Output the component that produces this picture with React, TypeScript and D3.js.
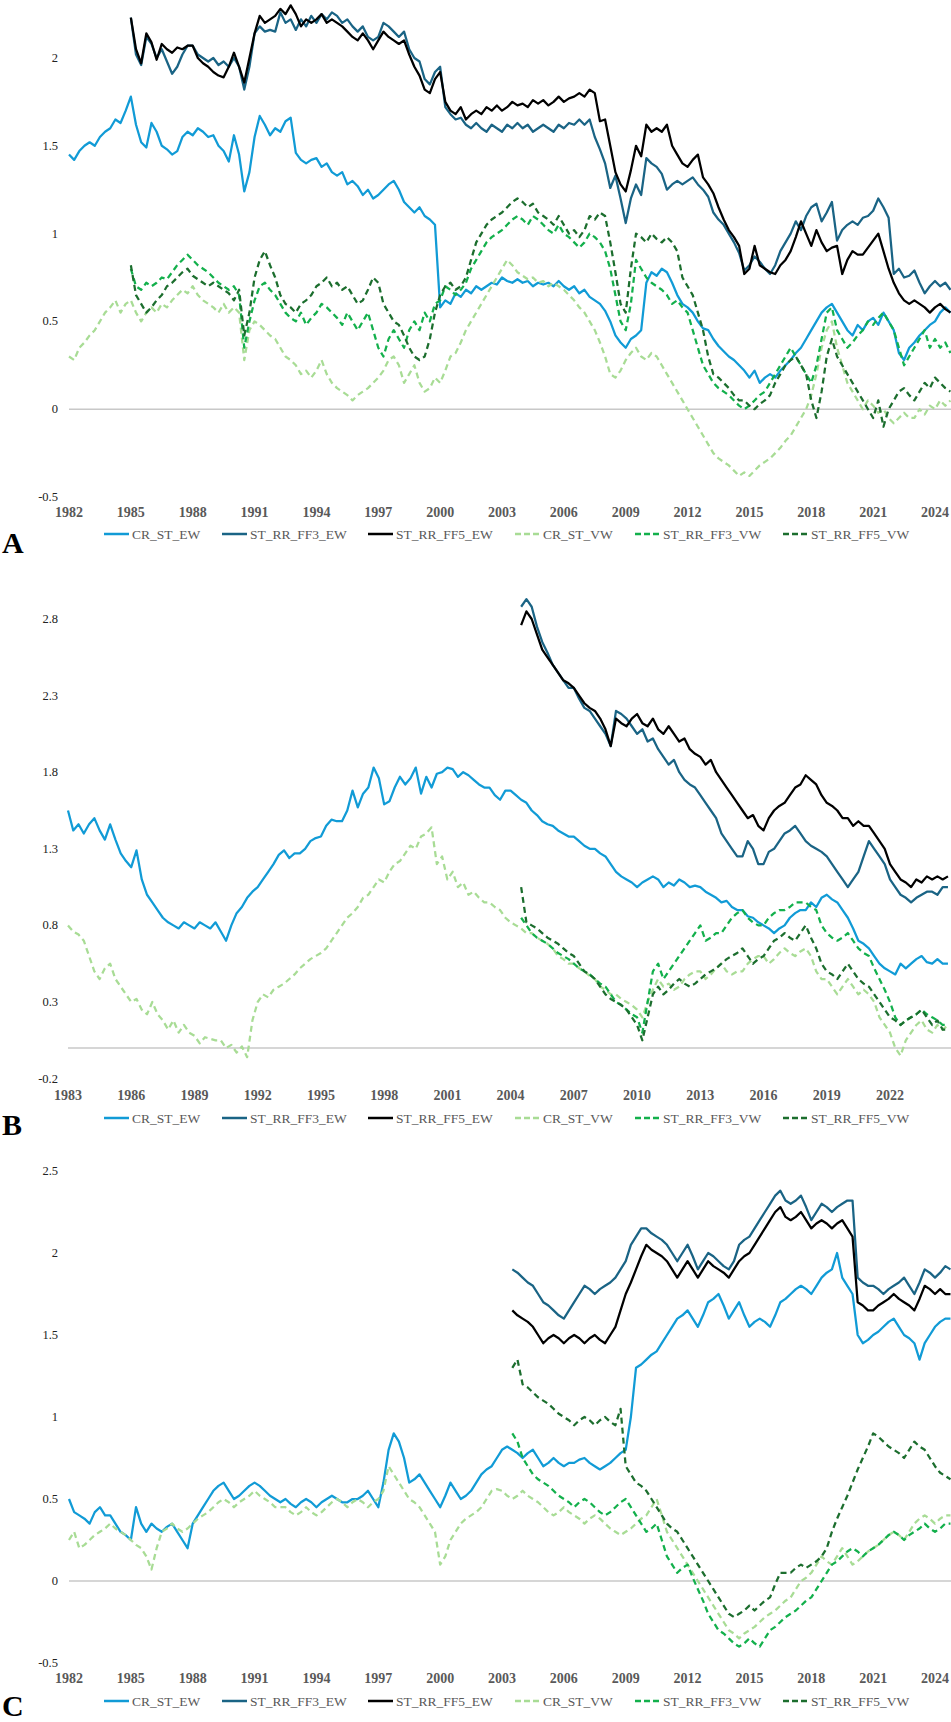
import React from "react";
import * as d3 from "d3";

const SERIES = ["CR_ST_EW", "ST_RR_FF3_EW", "ST_RR_FF5_EW", "CR_ST_VW", "ST_RR_FF3_VW", "ST_RR_FF5_VW"];
const COLORS = ["#119bd6", "#1a6485", "#000000", "#a8dc95", "#13b04c", "#1c6e2e"];
const DASHED = [false, false, false, true, true, true];

// Panel A (quarterly values)
const A_START = [1982, 1985, 1985, 1982, 1985, 1985];
const A_CR_ST_EW = [
  1.45, 1.42, 1.47, 1.50, 1.52, 1.50, 1.55, 1.58, 1.60, 1.65, 1.63, 1.70,
  1.78, 1.62, 1.52, 1.49, 1.63, 1.58, 1.50, 1.48, 1.45, 1.47, 1.55, 1.58,
  1.56, 1.60, 1.58, 1.55, 1.56, 1.50, 1.47, 1.41, 1.56, 1.45, 1.24, 1.35,
  1.55, 1.67, 1.62, 1.56, 1.60, 1.58, 1.64, 1.66, 1.46, 1.42, 1.40, 1.42,
  1.43, 1.38, 1.40, 1.35, 1.33, 1.35, 1.28, 1.30, 1.27, 1.22, 1.25, 1.20,
  1.22, 1.25, 1.28, 1.30, 1.25, 1.18, 1.15, 1.12, 1.15, 1.10, 1.08, 1.05,
  0.58, 0.62, 0.60, 0.66, 0.64, 0.68, 0.66, 0.70, 0.68, 0.70, 0.72, 0.71,
  0.75, 0.73, 0.72, 0.74, 0.72, 0.73, 0.70, 0.72, 0.71, 0.72, 0.70, 0.73,
  0.70, 0.68, 0.70, 0.66, 0.68, 0.64, 0.62, 0.60, 0.56, 0.50, 0.42, 0.38,
  0.35, 0.40, 0.42, 0.45, 0.72, 0.78, 0.76, 0.80, 0.78, 0.72, 0.65, 0.60,
  0.58, 0.55, 0.50, 0.46, 0.45, 0.40, 0.36, 0.33, 0.30, 0.28, 0.25, 0.22,
  0.18, 0.22, 0.15, 0.18, 0.20, 0.18, 0.22, 0.25, 0.28, 0.32, 0.35, 0.40,
  0.45, 0.50, 0.55, 0.58, 0.60, 0.55, 0.50, 0.45, 0.42, 0.48, 0.45, 0.50,
  0.52, 0.48, 0.55, 0.50, 0.45, 0.32, 0.28, 0.35, 0.38, 0.42, 0.45, 0.48,
  0.50, 0.55, 0.58, 0.55,
];
const A_ST_RR_FF3_EW = [
  2.23, 2.02, 1.96, 2.12, 2.08, 2.00, 2.05, 1.98, 1.91, 1.95, 2.02, 2.07,
  2.07, 2.02, 2.00, 1.98, 2.00, 1.96, 1.98, 1.95, 2.00, 1.95, 1.82, 1.95,
  2.14, 2.18, 2.15, 2.16, 2.15, 2.26, 2.20, 2.22, 2.16, 2.22, 2.18, 2.24,
  2.20, 2.25, 2.22, 2.26, 2.24, 2.20, 2.22, 2.18, 2.15, 2.18, 2.12, 2.10,
  2.12, 2.20, 2.18, 2.15, 2.12, 2.15, 2.05, 2.00, 1.98, 1.88, 1.85, 1.92,
  1.95, 1.72, 1.68, 1.65, 1.66, 1.62, 1.60, 1.63, 1.60, 1.58, 1.62, 1.60,
  1.58, 1.62, 1.60, 1.63, 1.60, 1.62, 1.58, 1.60, 1.62, 1.60, 1.58, 1.62,
  1.60, 1.63, 1.62, 1.65, 1.62, 1.65, 1.55, 1.48, 1.40, 1.26, 1.33, 1.20,
  1.06, 1.20, 1.28, 1.22, 1.43, 1.40, 1.38, 1.34, 1.25, 1.28, 1.30, 1.28,
  1.30, 1.32, 1.28, 1.25, 1.21, 1.12, 1.08, 1.05, 1.00, 0.95, 0.89, 0.79,
  0.82, 0.87, 0.84, 0.80, 0.77, 0.82, 0.90, 0.95, 1.00, 1.07, 1.02, 1.10,
  1.15, 1.17, 1.07, 1.12, 1.18, 0.96, 1.02, 1.05, 1.07, 1.05, 1.09, 1.10,
  1.13, 1.20, 1.15, 1.09, 0.77, 0.80, 0.75, 0.76, 0.79, 0.72, 0.66, 0.70,
  0.73, 0.70, 0.72, 0.68,
];
const A_ST_RR_FF5_EW = [
  2.23, 2.05, 1.97, 2.14, 2.09, 1.99, 2.08, 2.05, 2.03, 2.06, 2.05, 2.07,
  2.07, 2.00, 1.97, 1.95, 1.92, 1.90, 1.89, 1.95, 2.03, 1.95, 1.86, 2.00,
  2.14, 2.24, 2.20, 2.22, 2.24, 2.28, 2.25, 2.30, 2.25, 2.18, 2.22, 2.20,
  2.22, 2.25, 2.20, 2.22, 2.20, 2.18, 2.15, 2.12, 2.10, 2.14, 2.10, 2.05,
  2.10, 2.15, 2.12, 2.10, 2.08, 2.10, 2.02, 1.95, 1.90, 1.82, 1.80, 1.88,
  1.92, 1.75, 1.70, 1.68, 1.72, 1.65, 1.68, 1.70, 1.68, 1.72, 1.70, 1.73,
  1.70, 1.72, 1.75, 1.73, 1.74, 1.72, 1.76, 1.74, 1.76, 1.73, 1.75, 1.78,
  1.75, 1.77, 1.78, 1.80, 1.78, 1.82, 1.80, 1.64, 1.65, 1.50, 1.35, 1.28,
  1.24, 1.36, 1.50, 1.44, 1.62, 1.58, 1.60, 1.58, 1.62, 1.50, 1.45, 1.40,
  1.38, 1.42, 1.45, 1.32, 1.28, 1.23, 1.15, 1.08, 1.02, 0.98, 0.93, 0.77,
  0.80, 0.93, 0.82, 0.80, 0.78, 0.77, 0.82, 0.85, 0.90, 0.98, 1.07, 1.00,
  0.93, 1.02, 0.95, 0.90, 0.92, 0.93, 0.77, 0.85, 0.90, 0.88, 0.88, 0.92,
  0.96, 1.00, 0.90, 0.80, 0.72, 0.66, 0.62, 0.60, 0.62, 0.60, 0.58, 0.55,
  0.58, 0.60, 0.57, 0.55,
];
const A_CR_ST_VW = [
  0.30, 0.28, 0.35, 0.38, 0.42, 0.45, 0.50, 0.55, 0.58, 0.62, 0.55, 0.60,
  0.62, 0.55, 0.50, 0.55, 0.58, 0.55, 0.60, 0.58, 0.62, 0.65, 0.68, 0.66,
  0.70, 0.65, 0.62, 0.60, 0.58, 0.55, 0.60, 0.55, 0.58, 0.55, 0.28, 0.45,
  0.50, 0.48, 0.45, 0.42, 0.40, 0.35, 0.30, 0.28, 0.25, 0.20, 0.22, 0.18,
  0.22, 0.28, 0.20, 0.15, 0.12, 0.10, 0.08, 0.05, 0.08, 0.10, 0.12, 0.15,
  0.18, 0.22, 0.28, 0.30, 0.25, 0.15, 0.20, 0.25, 0.15, 0.10, 0.12, 0.18,
  0.15, 0.22, 0.30, 0.32, 0.38, 0.45, 0.50, 0.55, 0.60, 0.65, 0.70, 0.75,
  0.80, 0.85, 0.82, 0.78, 0.76, 0.74, 0.75, 0.72, 0.73, 0.70, 0.72, 0.70,
  0.68, 0.65, 0.62, 0.58, 0.55, 0.50, 0.45, 0.38, 0.30, 0.20, 0.18, 0.22,
  0.28, 0.32, 0.35, 0.30, 0.28, 0.32, 0.30, 0.25, 0.20, 0.15, 0.10, 0.05,
  0.00, -0.05, -0.10, -0.15, -0.20, -0.25, -0.28, -0.30, -0.32, -0.35, -0.38, -0.36,
  -0.38, -0.35, -0.32, -0.30, -0.28, -0.25, -0.22, -0.18, -0.15, -0.10, -0.05, 0.00,
  0.08, 0.20, 0.35, 0.45, 0.50, 0.35, 0.25, 0.15, 0.10, 0.05, 0.00, 0.05,
  0.02, -0.02, 0.00, -0.05, -0.08, -0.05, -0.02, -0.05, -0.05, 0.00, -0.03, 0.02,
  0.00, 0.05, 0.02, 0.05,
];
const A_ST_RR_FF3_VW = [
  0.80, 0.70, 0.68, 0.72, 0.70, 0.72, 0.75, 0.74, 0.78, 0.82, 0.85, 0.88,
  0.85, 0.82, 0.80, 0.78, 0.75, 0.72, 0.70, 0.68, 0.70, 0.65, 0.35, 0.50,
  0.62, 0.70, 0.72, 0.68, 0.65, 0.60, 0.55, 0.52, 0.50, 0.55, 0.48, 0.52,
  0.55, 0.60, 0.58, 0.55, 0.52, 0.48, 0.55, 0.50, 0.45, 0.50, 0.55, 0.45,
  0.35, 0.30, 0.40, 0.45, 0.40, 0.35, 0.45, 0.50, 0.45, 0.55, 0.50, 0.60,
  0.62, 0.70, 0.68, 0.65, 0.68, 0.72, 0.80, 0.85, 0.90, 0.95, 0.98, 1.00,
  1.02, 1.05, 1.08, 1.10, 1.08, 1.05, 1.10, 1.08, 1.05, 1.02, 1.00, 1.05,
  1.00, 0.98, 0.95, 0.92, 0.95, 1.00, 0.98, 0.95, 0.90, 0.80, 0.65, 0.50,
  0.45, 0.60, 0.85, 0.80, 0.75, 0.72, 0.70, 0.68, 0.65, 0.60, 0.62, 0.58,
  0.55, 0.45, 0.35, 0.25, 0.20, 0.15, 0.12, 0.10, 0.08, 0.05, 0.02, 0.00,
  0.02, 0.05, 0.08, 0.10, 0.15, 0.20, 0.25, 0.30, 0.35, 0.30, 0.25, 0.20,
  0.15, 0.25, 0.40, 0.55, 0.58, 0.45, 0.40, 0.35, 0.38, 0.42, 0.45, 0.50,
  0.48, 0.52, 0.55, 0.50, 0.45, 0.35, 0.25, 0.30, 0.35, 0.40, 0.45, 0.35,
  0.40, 0.35, 0.38, 0.32,
];
const A_ST_RR_FF5_VW = [
  0.82, 0.65, 0.60, 0.55, 0.58, 0.62, 0.65, 0.70, 0.72, 0.75, 0.78, 0.80,
  0.76, 0.74, 0.72, 0.70, 0.72, 0.70, 0.68, 0.66, 0.62, 0.68, 0.42, 0.55,
  0.75, 0.85, 0.90, 0.82, 0.75, 0.65, 0.60, 0.58, 0.55, 0.60, 0.62, 0.65,
  0.70, 0.72, 0.75, 0.70, 0.72, 0.68, 0.70, 0.65, 0.60, 0.62, 0.68, 0.75,
  0.72, 0.60, 0.55, 0.50, 0.48, 0.42, 0.35, 0.30, 0.28, 0.30, 0.40, 0.55,
  0.65, 0.70, 0.72, 0.68, 0.70, 0.75, 0.85, 0.95, 1.00, 1.05, 1.08, 1.10,
  1.12, 1.15, 1.18, 1.20, 1.18, 1.15, 1.17, 1.12, 1.10, 1.08, 1.05, 1.10,
  1.05, 1.00, 1.02, 0.98, 1.02, 1.10, 1.08, 1.12, 1.10, 0.95, 0.78, 0.60,
  0.55, 0.80, 1.00, 0.98, 0.95, 1.00, 0.97, 0.95, 0.98, 0.95, 0.90, 0.75,
  0.70, 0.65, 0.55, 0.45, 0.30, 0.20, 0.18, 0.15, 0.12, 0.08, 0.05, 0.05,
  0.02, 0.00, 0.03, 0.05, 0.08, 0.15, 0.20, 0.25, 0.28, 0.30, 0.25, 0.20,
  0.05, -0.05, 0.10, 0.30, 0.40, 0.30, 0.25, 0.20, 0.15, 0.10, 0.05, 0.00,
  -0.05, 0.05, -0.10, 0.00, 0.05, 0.10, 0.12, 0.08, 0.05, 0.10, 0.15, 0.12,
  0.18, 0.15, 0.12, 0.10,
];

// Panel B
const B_START = [1983, 2004.5, 2004.5, 1983, 2004.5, 2004.5];
const B_CR_ST_EW = [
  1.55, 1.42, 1.46, 1.40, 1.46, 1.50, 1.42, 1.36, 1.46, 1.36, 1.27, 1.22,
  1.18, 1.29, 1.10, 1.00, 0.95, 0.90, 0.85, 0.82, 0.80, 0.78, 0.82, 0.80,
  0.78, 0.82, 0.80, 0.78, 0.82, 0.76, 0.70, 0.80, 0.88, 0.92, 0.98, 1.02,
  1.05, 1.10, 1.15, 1.20, 1.26, 1.29, 1.24, 1.27, 1.27, 1.30, 1.35, 1.37,
  1.38, 1.45, 1.49, 1.48, 1.48, 1.55, 1.68, 1.57, 1.66, 1.70, 1.83, 1.76,
  1.59, 1.61, 1.70, 1.77, 1.72, 1.76, 1.83, 1.66, 1.77, 1.70, 1.79, 1.80,
  1.83, 1.82, 1.77, 1.80, 1.78, 1.75, 1.72, 1.70, 1.70, 1.65, 1.62, 1.68,
  1.68, 1.65, 1.62, 1.60, 1.55, 1.52, 1.48, 1.46, 1.45, 1.42, 1.40, 1.38,
  1.38, 1.35, 1.32, 1.30, 1.30, 1.27, 1.25, 1.20, 1.15, 1.12, 1.10, 1.08,
  1.05, 1.08, 1.10, 1.12, 1.10, 1.05, 1.08, 1.06, 1.10, 1.08, 1.05, 1.06,
  1.05, 1.02, 1.00, 0.98, 0.95, 0.96, 0.92, 0.90, 0.90, 0.86, 0.85, 0.82,
  0.80, 0.78, 0.75, 0.78, 0.80, 0.85, 0.88, 0.90, 0.90, 0.95, 0.92, 0.98,
  1.00, 0.97, 0.95, 0.90, 0.85, 0.78, 0.70, 0.68, 0.65, 0.60, 0.55, 0.52,
  0.50, 0.48, 0.55, 0.52, 0.55, 0.58, 0.60, 0.56, 0.55, 0.58, 0.55, 0.55,
];
const B_ST_RR_FF3_EW = [
  2.88, 2.93, 2.88, 2.75, 2.65, 2.58, 2.50, 2.45, 2.40, 2.35, 2.35, 2.28,
  2.22, 2.20, 2.15, 2.10, 2.05, 1.97, 2.20, 2.18, 2.15, 2.10, 2.05, 2.08,
  2.00, 2.02, 1.95, 1.90, 1.85, 1.88, 1.80, 1.75, 1.72, 1.70, 1.65, 1.60,
  1.55, 1.50, 1.40, 1.35, 1.30, 1.25, 1.25, 1.35, 1.30, 1.20, 1.20, 1.28,
  1.30, 1.35, 1.40, 1.42, 1.45, 1.40, 1.35, 1.32, 1.30, 1.28, 1.25, 1.20,
  1.15, 1.10, 1.05, 1.10, 1.15, 1.25, 1.35, 1.30, 1.25, 1.20, 1.10, 1.05,
  1.00, 0.98, 0.95, 0.98, 1.00, 1.02, 1.02, 1.00, 1.05, 1.05,
];
const B_ST_RR_FF5_EW = [
  2.76, 2.85, 2.80, 2.70, 2.60, 2.55, 2.50, 2.45, 2.40, 2.38, 2.35, 2.30,
  2.25, 2.22, 2.20, 2.15, 2.08, 1.97, 2.15, 2.12, 2.10, 2.15, 2.18, 2.12,
  2.10, 2.15, 2.08, 2.05, 2.10, 2.05, 2.00, 2.02, 1.95, 1.92, 1.90, 1.85,
  1.88, 1.80, 1.75, 1.70, 1.65, 1.60, 1.55, 1.50, 1.52, 1.45, 1.42, 1.50,
  1.55, 1.58, 1.60, 1.65, 1.70, 1.72, 1.78, 1.75, 1.72, 1.65, 1.60, 1.58,
  1.55, 1.50, 1.50, 1.45, 1.48, 1.45, 1.45, 1.40, 1.35, 1.30, 1.20, 1.15,
  1.10, 1.08, 1.05, 1.10, 1.08, 1.12, 1.10, 1.12, 1.10, 1.12,
];
const B_CR_ST_VW = [
  0.80, 0.76, 0.74, 0.70, 0.60, 0.50, 0.45, 0.52, 0.55, 0.45, 0.40, 0.35,
  0.30, 0.32, 0.25, 0.22, 0.30, 0.22, 0.18, 0.12, 0.18, 0.10, 0.15, 0.10,
  0.08, 0.03, 0.07, 0.06, 0.05, 0.05, 0.00, 0.02, -0.03, 0.01, -0.06, 0.18,
  0.30, 0.35, 0.33, 0.38, 0.40, 0.42, 0.45, 0.48, 0.52, 0.55, 0.58, 0.60,
  0.62, 0.65, 0.70, 0.75, 0.80, 0.85, 0.88, 0.92, 0.98, 1.00, 1.05, 1.10,
  1.08, 1.15, 1.20, 1.22, 1.27, 1.32, 1.30, 1.38, 1.40, 1.44, 1.20, 1.25,
  1.10, 1.15, 1.05, 1.08, 1.00, 1.02, 0.98, 0.95, 0.95, 0.92, 0.90, 0.85,
  0.82, 0.80, 0.78, 0.75, 0.75, 0.72, 0.70, 0.68, 0.65, 0.60, 0.58, 0.55,
  0.55, 0.52, 0.50, 0.47, 0.45, 0.40, 0.38, 0.35, 0.35, 0.32, 0.30, 0.28,
  0.25, 0.20, 0.30, 0.38, 0.45, 0.40, 0.42, 0.38, 0.40, 0.45, 0.48, 0.50,
  0.50, 0.45, 0.48, 0.52, 0.55, 0.50, 0.48, 0.50, 0.50, 0.55, 0.58, 0.60,
  0.60, 0.55, 0.58, 0.62, 0.65, 0.62, 0.60, 0.63, 0.65, 0.60, 0.50, 0.45,
  0.45, 0.40, 0.35, 0.40, 0.45, 0.40, 0.35, 0.38, 0.35, 0.30, 0.20, 0.15,
  0.10, 0.00, -0.05, 0.05, 0.10, 0.15, 0.18, 0.12, 0.10, 0.15, 0.12, 0.15,
];
const B_ST_RR_FF3_VW = [
  0.85, 0.80, 0.75, 0.72, 0.70, 0.68, 0.65, 0.62, 0.60, 0.58, 0.55, 0.52,
  0.50, 0.48, 0.45, 0.42, 0.40, 0.35, 0.30, 0.28, 0.25, 0.22, 0.20, 0.10,
  0.30, 0.50, 0.55, 0.45, 0.50, 0.55, 0.60, 0.65, 0.70, 0.75, 0.80, 0.70,
  0.72, 0.75, 0.75, 0.80, 0.85, 0.88, 0.90, 0.85, 0.82, 0.80, 0.80, 0.85,
  0.88, 0.90, 0.90, 0.92, 0.95, 0.95, 0.95, 0.92, 0.90, 0.80, 0.75, 0.72,
  0.70, 0.72, 0.75, 0.70, 0.65, 0.62, 0.60, 0.52, 0.45, 0.38, 0.30, 0.20,
  0.15, 0.18, 0.20, 0.22, 0.25, 0.22, 0.20, 0.18, 0.15, 0.15,
];
const B_ST_RR_FF5_VW = [
  1.05, 0.82, 0.80, 0.78, 0.75, 0.72, 0.70, 0.68, 0.65, 0.62, 0.60, 0.55,
  0.50, 0.48, 0.45, 0.40, 0.35, 0.32, 0.30, 0.28, 0.25, 0.20, 0.15, 0.05,
  0.20, 0.35, 0.40, 0.35, 0.38, 0.42, 0.45, 0.42, 0.40, 0.42, 0.45, 0.48,
  0.50, 0.52, 0.55, 0.58, 0.60, 0.62, 0.65, 0.60, 0.55, 0.58, 0.60, 0.65,
  0.70, 0.72, 0.75, 0.72, 0.70, 0.75, 0.80, 0.72, 0.65, 0.55, 0.50, 0.48,
  0.45, 0.50, 0.55, 0.50, 0.45, 0.42, 0.40, 0.35, 0.30, 0.25, 0.20, 0.18,
  0.15, 0.18, 0.20, 0.22, 0.25, 0.20, 0.15, 0.18, 0.12, 0.12,
];

// Panel C
const C_START = [1982, 2003.5, 2003.5, 1982, 2003.5, 2003.5];
const C_CR_ST_EW = [
  0.50, 0.42, 0.40, 0.38, 0.35, 0.42, 0.45, 0.40, 0.40, 0.35, 0.30, 0.28,
  0.25, 0.45, 0.35, 0.30, 0.35, 0.32, 0.30, 0.33, 0.35, 0.30, 0.25, 0.20,
  0.35, 0.40, 0.45, 0.50, 0.55, 0.58, 0.60, 0.55, 0.50, 0.52, 0.55, 0.58,
  0.60, 0.58, 0.55, 0.52, 0.50, 0.48, 0.50, 0.47, 0.45, 0.48, 0.50, 0.48,
  0.45, 0.48, 0.50, 0.52, 0.50, 0.48, 0.48, 0.50, 0.50, 0.52, 0.55, 0.50,
  0.45, 0.60, 0.80, 0.90, 0.85, 0.75, 0.60, 0.62, 0.65, 0.60, 0.55, 0.50,
  0.45, 0.52, 0.60, 0.55, 0.50, 0.52, 0.55, 0.60, 0.65, 0.68, 0.70, 0.75,
  0.80, 0.82, 0.80, 0.78, 0.75, 0.78, 0.80, 0.75, 0.70, 0.72, 0.75, 0.72,
  0.70, 0.72, 0.72, 0.74, 0.75, 0.72, 0.70, 0.68, 0.70, 0.72, 0.75, 0.78,
  0.80, 1.00, 1.30, 1.32, 1.35, 1.38, 1.40, 1.45, 1.50, 1.55, 1.60, 1.62,
  1.65, 1.60, 1.55, 1.62, 1.70, 1.72, 1.75, 1.68, 1.60, 1.65, 1.70, 1.62,
  1.55, 1.58, 1.60, 1.58, 1.55, 1.62, 1.70, 1.72, 1.75, 1.78, 1.80, 1.78,
  1.75, 1.80, 1.85, 1.88, 1.90, 2.00, 1.85, 1.80, 1.75, 1.50, 1.45, 1.47,
  1.50, 1.52, 1.55, 1.58, 1.60, 1.55, 1.50, 1.48, 1.45, 1.35, 1.45, 1.50,
  1.55, 1.58, 1.60, 1.60,
];
const C_ST_RR_FF3_EW = [
  1.90, 1.88, 1.85, 1.82, 1.80, 1.75, 1.70, 1.68, 1.65, 1.62, 1.60, 1.65,
  1.70, 1.75, 1.80, 1.78, 1.75, 1.78, 1.80, 1.82, 1.85, 1.90, 1.95, 2.05,
  2.10, 2.15, 2.15, 2.12, 2.10, 2.08, 2.05, 2.00, 1.95, 2.00, 2.05, 1.98,
  1.90, 1.95, 2.00, 1.98, 1.95, 1.92, 1.90, 1.95, 2.05, 2.08, 2.10, 2.15,
  2.20, 2.25, 2.30, 2.35, 2.38, 2.32, 2.30, 2.32, 2.35, 2.28, 2.20, 2.25,
  2.30, 2.28, 2.25, 2.28, 2.30, 2.32, 2.32, 1.85, 1.82, 1.80, 1.80, 1.78,
  1.75, 1.78, 1.80, 1.82, 1.85, 1.80, 1.75, 1.82, 1.90, 1.88, 1.85, 1.88,
  1.92, 1.90,
];
const C_ST_RR_FF5_EW = [
  1.65, 1.62, 1.60, 1.58, 1.55, 1.50, 1.45, 1.48, 1.50, 1.48, 1.45, 1.48,
  1.50, 1.48, 1.45, 1.48, 1.50, 1.47, 1.45, 1.50, 1.55, 1.65, 1.75, 1.82,
  1.90, 1.98, 2.05, 2.02, 2.00, 1.98, 1.95, 1.90, 1.85, 1.90, 1.95, 1.90,
  1.85, 1.90, 1.95, 1.92, 1.90, 1.88, 1.85, 1.90, 1.95, 1.98, 2.00, 2.05,
  2.10, 2.15, 2.20, 2.25, 2.28, 2.22, 2.20, 2.22, 2.25, 2.20, 2.15, 2.18,
  2.20, 2.18, 2.15, 2.18, 2.20, 2.15, 2.10, 1.70, 1.68, 1.65, 1.65, 1.68,
  1.70, 1.72, 1.75, 1.72, 1.70, 1.68, 1.65, 1.72, 1.80, 1.78, 1.75, 1.78,
  1.75, 1.75,
];
const C_CR_ST_VW = [
  0.25, 0.30, 0.20, 0.22, 0.25, 0.28, 0.30, 0.32, 0.35, 0.32, 0.30, 0.28,
  0.25, 0.22, 0.20, 0.15, 0.07, 0.20, 0.30, 0.32, 0.35, 0.32, 0.30, 0.32,
  0.35, 0.38, 0.40, 0.42, 0.45, 0.48, 0.50, 0.48, 0.45, 0.48, 0.50, 0.52,
  0.55, 0.52, 0.50, 0.48, 0.45, 0.45, 0.45, 0.42, 0.40, 0.42, 0.45, 0.42,
  0.40, 0.42, 0.45, 0.48, 0.50, 0.48, 0.45, 0.48, 0.50, 0.48, 0.45, 0.48,
  0.50, 0.55, 0.70, 0.65, 0.60, 0.55, 0.50, 0.48, 0.45, 0.40, 0.35, 0.30,
  0.10, 0.15, 0.25, 0.30, 0.35, 0.38, 0.40, 0.42, 0.45, 0.50, 0.55, 0.56,
  0.55, 0.52, 0.50, 0.52, 0.55, 0.52, 0.50, 0.48, 0.45, 0.42, 0.40, 0.42,
  0.45, 0.42, 0.40, 0.38, 0.35, 0.38, 0.40, 0.38, 0.35, 0.32, 0.30, 0.28,
  0.30, 0.32, 0.35, 0.38, 0.40, 0.45, 0.50, 0.40, 0.30, 0.25, 0.20, 0.15,
  0.10, 0.05, 0.00, -0.05, -0.10, -0.15, -0.20, -0.25, -0.30, -0.32, -0.35, -0.32,
  -0.30, -0.28, -0.25, -0.22, -0.20, -0.18, -0.15, -0.12, -0.10, -0.05, 0.00, 0.02,
  0.05, 0.10, 0.15, 0.12, 0.10, 0.15, 0.20, 0.15, 0.10, 0.12, 0.15, 0.18,
  0.20, 0.22, 0.25, 0.28, 0.30, 0.28, 0.25, 0.30, 0.35, 0.38, 0.40, 0.38,
  0.35, 0.38, 0.40, 0.40,
];
const C_ST_RR_FF3_VW = [
  0.90, 0.85, 0.75, 0.70, 0.65, 0.62, 0.60, 0.58, 0.55, 0.52, 0.50, 0.48,
  0.45, 0.48, 0.50, 0.48, 0.45, 0.42, 0.40, 0.42, 0.45, 0.48, 0.50, 0.45,
  0.40, 0.35, 0.30, 0.32, 0.35, 0.25, 0.15, 0.10, 0.05, 0.08, 0.10, 0.02,
  -0.05, -0.12, -0.20, -0.25, -0.30, -0.32, -0.35, -0.38, -0.40, -0.38, -0.35, -0.38,
  -0.40, -0.35, -0.30, -0.28, -0.25, -0.22, -0.20, -0.18, -0.15, -0.12, -0.10, -0.05,
  0.00, 0.05, 0.10, 0.12, 0.15, 0.18, 0.20, 0.18, 0.15, 0.18, 0.20, 0.22,
  0.25, 0.28, 0.30, 0.28, 0.25, 0.28, 0.30, 0.32, 0.35, 0.32, 0.30, 0.32,
  0.35, 0.35,
];
const C_ST_RR_FF5_VW = [
  1.30, 1.35, 1.20, 1.18, 1.15, 1.12, 1.10, 1.08, 1.05, 1.02, 1.00, 0.98,
  0.95, 0.98, 1.00, 0.98, 0.95, 0.98, 1.00, 0.97, 0.95, 1.05, 0.70, 0.65,
  0.60, 0.58, 0.55, 0.50, 0.45, 0.40, 0.35, 0.32, 0.30, 0.25, 0.20, 0.15,
  0.10, 0.05, 0.00, -0.05, -0.10, -0.15, -0.20, -0.22, -0.20, -0.18, -0.15, -0.18,
  -0.15, -0.12, -0.10, -0.02, 0.05, 0.05, 0.05, 0.08, 0.10, 0.08, 0.10, 0.12,
  0.15, 0.20, 0.30, 0.38, 0.45, 0.52, 0.60, 0.68, 0.75, 0.82, 0.90, 0.88,
  0.85, 0.82, 0.80, 0.78, 0.75, 0.80, 0.85, 0.82, 0.80, 0.75, 0.70, 0.66,
  0.64, 0.62,
];

const A_TICKS_Y = [-0.5, 0, 0.5, 1, 1.5, 2];
const B_TICKS_Y = [-0.2, 0.3, 0.8, 1.3, 1.8, 2.3, 2.8];
const C_TICKS_Y = [-0.5, 0, 0.5, 1, 1.5, 2, 2.5];
const A_TICKS_X = d3.range(1982, 2025, 3);
const B_TICKS_X = d3.range(1983, 2023, 3);
const C_TICKS_X = d3.range(1982, 2025, 3);

const STEP = 0.25;
const FONT = "'Liberation Serif', 'Times New Roman', serif";

type PanelProps = {
  id: string;
  letter: string;
  data: number[][];
  starts: number[];
  xDomain: [number, number];
  xRange: [number, number];
  yDomain: [number, number];
  yRange: [number, number];
  yTicks: number[];
  xTicks: number[];
  xLabelY: number;
  legendY: number;
  letterY: number;
};

const LEGEND_X = [104, 222, 368, 515, 635, 783];

function Panel(p: PanelProps) {
  const x = d3.scaleLinear().domain(p.xDomain).range(p.xRange);
  const y = d3.scaleLinear().domain(p.yDomain).range(p.yRange);
  const line = d3
    .line<[number, number]>()
    .x((d) => x(d[0]))
    .y((d) => y(d[1]));
  const left = p.xRange[0];
  const clipId = "clip" + p.id;
  const yTop = Math.min(p.yRange[0], p.yRange[1]);
  const yBot = Math.max(p.yRange[0], p.yRange[1]);
  return (
    <g>
      <defs>
        <clipPath id={clipId}>
          <rect x={left - 5} y={yTop - 80} width={951 - left + 5} height={yBot - yTop + 100} />
        </clipPath>
      </defs>
      {p.yTicks.map((t) => (
        <text
          key={"yt" + t}
          x={58}
          y={y(t)}
          textAnchor="end"
          dominantBaseline="central"
          fontSize={12.5}
          fontFamily={FONT}
          fill="#222"
        >
          {t}
        </text>
      ))}
      <line x1={left} x2={951} y1={y(0)} y2={y(0)} stroke="#c8c8c8" strokeWidth={1.5} />
      <g clipPath={`url(#${clipId})`}>
        {p.data.map((vals, si) => {
          const pts: [number, number][] = vals.map((v, i) => [p.starts[si] + i * STEP, v]);
          return (
            <path
              key={SERIES[si]}
              d={line(pts) || ""}
              fill="none"
              stroke={COLORS[si]}
              strokeWidth={2.25}
              strokeDasharray={DASHED[si] ? "6 4" : undefined}
              strokeLinejoin="round"
            />
          );
        })}
      </g>
      {p.xTicks.map((t) => (
        <text
          key={"xt" + t}
          x={x(t)}
          y={p.xLabelY}
          textAnchor="middle"
          dominantBaseline="central"
          fontSize={14}
          fontWeight="bold"
          fontFamily={FONT}
          fill="#595959"
        >
          {t}
        </text>
      ))}
      {SERIES.map((s, i) => (
        <g key={"lg" + s}>
          <line
            x1={LEGEND_X[i]}
            x2={LEGEND_X[i] + 25}
            y1={p.legendY}
            y2={p.legendY}
            stroke={COLORS[i]}
            strokeWidth={2.5}
            strokeDasharray={DASHED[i] ? "6 3" : undefined}
          />
          <text
            x={LEGEND_X[i] + 28}
            y={p.legendY}
            dominantBaseline="central"
            fontSize={13.5}
            fontFamily={FONT}
            fill="#595959"
          >
            {s}
          </text>
        </g>
      ))}
      <text x={2} y={p.letterY} fontSize={30} fontWeight="bold" fontFamily={FONT} fill="#000">
        {p.letter}
      </text>
    </g>
  );
}

export default function App() {
  return (
    <svg
      width={951}
      height={1722}
      viewBox="0 0 951 1722"
      style={{ position: "absolute", left: 0, top: 0, background: "#fff" }}
    >
      <rect x={0} y={0} width={951} height={1722} fill="#fff" />
      <Panel
        id="A"
        letter="A"
        data={[A_CR_ST_EW, A_ST_RR_FF3_EW, A_ST_RR_FF5_EW, A_CR_ST_VW, A_ST_RR_FF3_VW, A_ST_RR_FF5_VW]}
        starts={A_START}
        xDomain={[1982, 2024]}
        xRange={[69, 935]}
        yDomain={[-0.5, 2]}
        yRange={[497, 58]}
        yTicks={A_TICKS_Y}
        xTicks={A_TICKS_X}
        xLabelY={512}
        legendY={534}
        letterY={553}
      />
      <Panel
        id="B"
        letter="B"
        data={[B_CR_ST_EW, B_ST_RR_FF3_EW, B_ST_RR_FF5_EW, B_CR_ST_VW, B_ST_RR_FF3_VW, B_ST_RR_FF5_VW]}
        starts={B_START}
        xDomain={[1983, 2022]}
        xRange={[68, 890]}
        yDomain={[-0.2, 2.8]}
        yRange={[1078.6, 619]}
        yTicks={B_TICKS_Y}
        xTicks={B_TICKS_X}
        xLabelY={1095}
        legendY={1118}
        letterY={1135}
      />
      <Panel
        id="C"
        letter="C"
        data={[C_CR_ST_EW, C_ST_RR_FF3_EW, C_ST_RR_FF5_EW, C_CR_ST_VW, C_ST_RR_FF3_VW, C_ST_RR_FF5_VW]}
        starts={C_START}
        xDomain={[1982, 2024]}
        xRange={[69, 935]}
        yDomain={[-0.5, 2.5]}
        yRange={[1663, 1171]}
        yTicks={C_TICKS_Y}
        xTicks={C_TICKS_X}
        xLabelY={1678}
        legendY={1701}
        letterY={1716}
      />
    </svg>
  );
}
